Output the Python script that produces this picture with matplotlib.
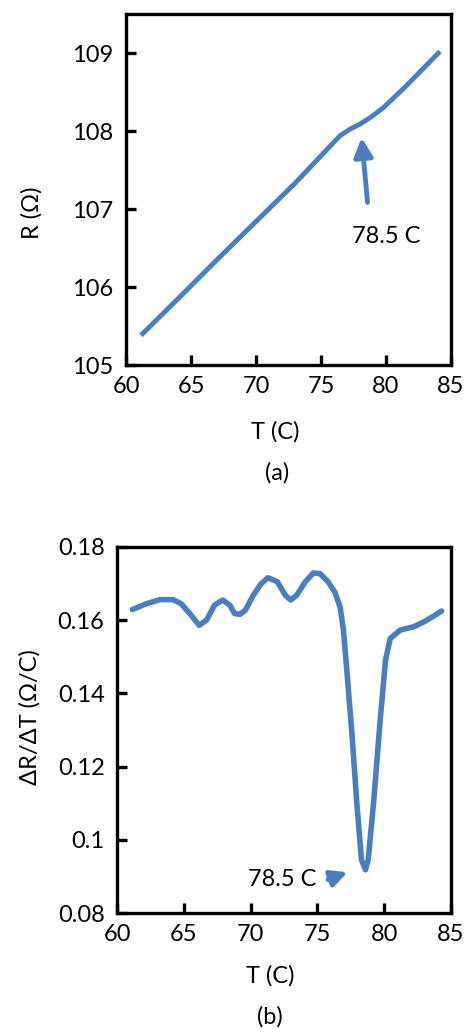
import numpy as np
import matplotlib
matplotlib.use('Agg')
import matplotlib.pyplot as plt

plt.rcParams['font.family'] = ['Lato', 'DejaVu Sans']

# (a) resistance vs temperature
t_a = [61.15, 64.0, 67.0, 70.0, 73.0, 75.95, 76.46, 77.2, 78.0, 78.77, 79.8, 81.5, 84.15]
r_a = [105.38, 105.85, 106.35, 106.84, 107.33, 107.85, 107.94, 108.02, 108.09, 108.17, 108.3, 108.57, 109.02]

# (b) dR/dT vs temperature
t_b = [61.15, 62.2, 63.2, 64.2, 64.8, 65.45, 66.15, 66.7, 67.3, 67.9, 68.45, 68.8, 69.2, 69.6,
       70.2, 70.8, 71.3, 72.0, 72.6, 73.0, 73.45, 74.1, 74.7, 75.2, 75.8, 76.3, 76.7, 76.95,
       77.2, 77.6, 77.95, 78.3, 78.6, 78.8, 79.2, 79.7, 80.1, 80.45, 81.2, 82.2, 82.95, 83.7, 84.3]
d_b = [0.1629, 0.1645, 0.1656, 0.1656, 0.1645, 0.1618, 0.1586, 0.1600, 0.1641, 0.1655, 0.1641,
       0.1618, 0.1616, 0.1627, 0.1668, 0.1700, 0.1716, 0.1705, 0.1668, 0.1655, 0.1668, 0.1705,
       0.1729, 0.1727, 0.1705, 0.1677, 0.1636, 0.1573, 0.1464, 0.1282, 0.1100, 0.0945, 0.0918,
       0.0945, 0.1100, 0.1327, 0.1491, 0.1550, 0.1573, 0.1582, 0.1595, 0.1611, 0.1625]

blue = '#4A7EBF'
fs = 17

fig = plt.figure(figsize=(4.66, 10.32), dpi=100)
ax1 = fig.add_axes([0.2704, 0.6463, 0.6974, 0.3401])
ax2 = fig.add_axes([0.2511, 0.1153, 0.7167, 0.3547])

for ax in (ax1, ax2):
    for s in ax.spines.values():
        s.set_linewidth(2.4)
    ax.tick_params(direction='in', length=7, width=2.4, labelsize=fs, top=False, right=False)
    ax.tick_params(axis='x', pad=8)
    ax.tick_params(axis='y', pad=9)
    ax.set_xlim(60, 85)
    ax.set_xticks([60, 65, 70, 75, 80, 85])

ax1.plot(t_a, r_a, color=blue, lw=3.5, solid_capstyle='butt')
ax1.set_ylim(105, 109.5)
ax1.set_yticks([105, 106, 107, 108, 109])
ax1.set_xlabel('T (C)', fontsize=fs)
ax1.set_ylabel('R (\u03a9)', fontsize=fs)
ax1.xaxis.set_label_coords(0.46, -0.16)
ax1.yaxis.set_label_coords(-0.258, 0.433)
ax1.annotate('', xy=(78.1, 107.95), xytext=(78.6, 107.05),
             arrowprops=dict(arrowstyle='-|>', color=blue, lw=3.5, mutation_scale=28))
ax1.text(77.4, 106.65, '78.5 C', fontsize=fs, ha='left', va='center')

ax2.plot(t_b, d_b, color=blue, lw=4, solid_capstyle='round')
ax2.set_ylim(0.08, 0.18)
ax2.set_yticks([0.08, 0.1, 0.12, 0.14, 0.16, 0.18])
ax2.set_yticklabels(['0.08', '0.1', '0.12', '0.14', '0.16', '0.18'])
ax2.set_xlabel('T (C)', fontsize=fs)
ax2.set_ylabel('\u0394R/\u0394T (\u03a9/C)', fontsize=fs)
ax2.xaxis.set_label_coords(0.458, -0.142)
ax2.yaxis.set_label_coords(-0.23, 0.535)
ax2.annotate('', xy=(77.45, 0.0914), xytext=(75.6, 0.0889),
             arrowprops=dict(arrowstyle='-|>', color=blue, lw=3.5, mutation_scale=24))
ax2.text(69.8, 0.0891, '78.5 C', fontsize=fs, ha='left', va='center')

fig.text(0.594, 0.5417, '(a)', fontsize=fs, ha='center', va='center')
fig.text(0.579, 0.0145, '(b)', fontsize=fs, ha='center', va='center')

fig.savefig('out.png', dpi=100)
